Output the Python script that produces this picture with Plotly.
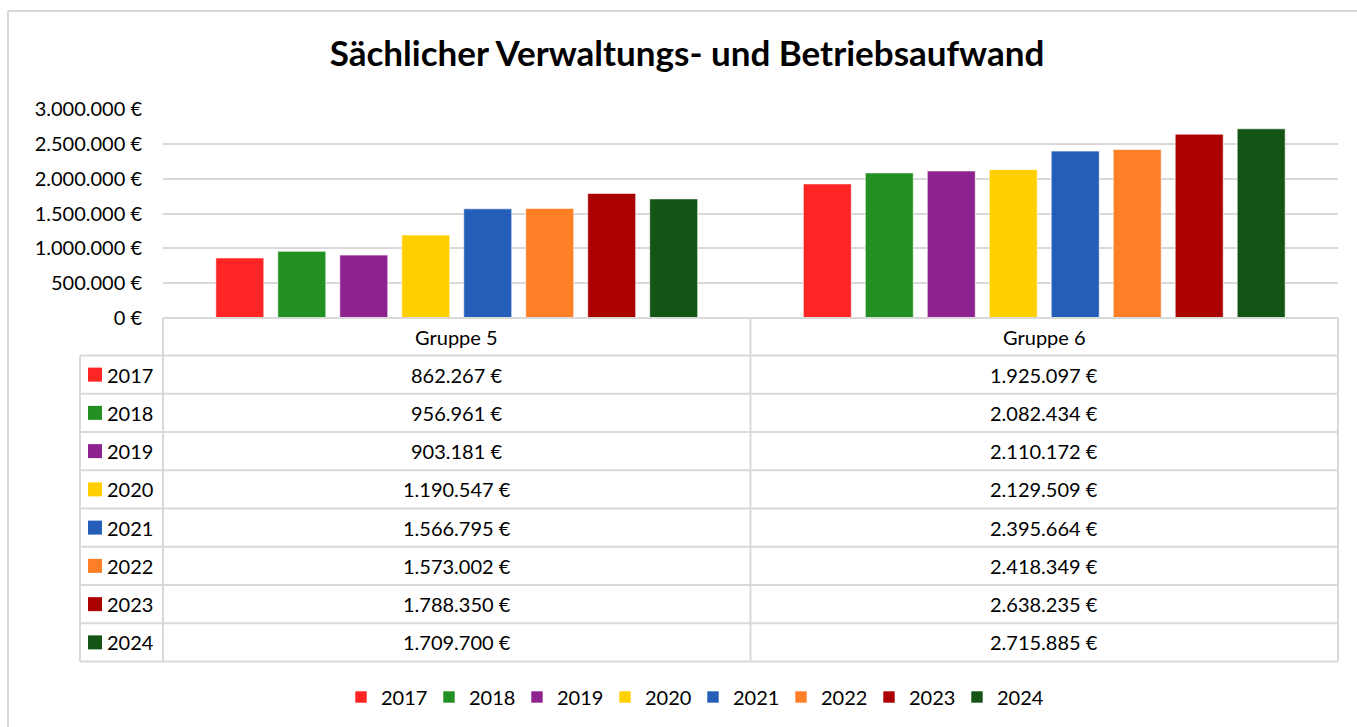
import plotly.graph_objects as go

W, H = 1357, 727

title = "Sächlicher Verwaltungs- und Betriebsaufwand"
categories = ["Gruppe 5", "Gruppe 6"]
years = ["2017", "2018", "2019", "2020", "2021", "2022", "2023", "2024"]
values_g5 = [862267, 956961, 903181, 1190547, 1566795, 1573002, 1788350, 1709700]
values_g6 = [1925097, 2082434, 2110172, 2129509, 2395664, 2418349, 2638235, 2715885]
colors = ["#FF2525", "#229022", "#8E2390", "#FFCF00", "#245EB8", "#FF7F26", "#AA0000", "#145516"]
y_ticks = [0, 500000, 1000000, 1500000, 2000000, 2500000, 3000000]

FONT = "Lato"
FS = 20
GRID = "#d9d9d9"


def eur(v):
    return f"{v:,}".replace(",", ".") + " €"


def px(x):
    return x / W


def py(y):
    return 1 - y / H


# layout geometry (pixels)
PL, PR, PT, PB = 163, 1338, 109, 318
TBL_L = 80
HDR_B = 355.5
ROW_H = 38.25
DIV = (PL + PR) / 2

fig = go.Figure()
for i, yr in enumerate(years):
    fig.add_trace(go.Bar(
        x=categories,
        y=[values_g5[i], values_g6[i]],
        name=yr,
        marker=dict(color=colors[i], line=dict(color="rgba(255,255,255,0.6)", width=1)),
    ))

shapes = []
line = dict(color=GRID, width=2)
# outer chart border
shapes.append(dict(type="line", xref="paper", yref="paper", x0=px(8), x1=px(8), y0=py(11), y1=py(H + 5), line=line))
shapes.append(dict(type="line", xref="paper", yref="paper", x0=px(8), x1=px(W + 5), y0=py(11), y1=py(11), line=line))
# table horizontal lines
shapes.append(dict(type="line", xref="paper", yref="paper", x0=px(PL), x1=px(PR), y0=py(PB), y1=py(PB), line=line))
n = len(years)
for r in range(n + 1):
    yy = HDR_B + r * ROW_H
    shapes.append(dict(type="line", xref="paper", yref="paper", x0=px(TBL_L), x1=px(PR), y0=py(yy), y1=py(yy), line=line))
bottom = HDR_B + n * ROW_H
# table vertical lines
shapes.append(dict(type="line", xref="paper", yref="paper", x0=px(TBL_L), x1=px(TBL_L), y0=py(HDR_B), y1=py(bottom), line=line))
for xx in (PL, DIV, PR):
    shapes.append(dict(type="line", xref="paper", yref="paper", x0=px(xx), x1=px(xx), y0=py(PB), y1=py(bottom), line=line))

annotations = []
cat_centers = [PL + (PR - PL) * 0.25, PL + (PR - PL) * 0.75]
for c, cx in zip(categories, cat_centers):
    annotations.append(dict(xref="paper", yref="paper", x=px(cx), y=py((PB + HDR_B) / 2), text=c,
                            showarrow=False, xanchor="center", yanchor="middle",
                            font=dict(family=FONT, size=FS, color="#000")))
for r, yr in enumerate(years):
    cy = HDR_B + (r + 0.5) * ROW_H
    shapes.append(dict(type="rect", xref="paper", yref="paper", x0=px(88), x1=px(102),
                       y0=py(cy - 7), y1=py(cy + 7), fillcolor=colors[r], line=dict(width=0)))
    annotations.append(dict(xref="paper", yref="paper", x=px(105), y=py(cy), text=yr,
                            showarrow=False, xanchor="left", yanchor="middle",
                            font=dict(family=FONT, size=FS, color="#000")))
    for vals, cx in zip((values_g5, values_g6), cat_centers):
        annotations.append(dict(xref="paper", yref="paper", x=px(cx), y=py(cy), text=eur(vals[r]),
                                showarrow=False, xanchor="center", yanchor="middle",
                                font=dict(family=FONT, size=FS, color="#000")))

fig.update_layout(
    width=W, height=H,
    margin=dict(l=0, r=0, t=0, b=0, autoexpand=False),
    paper_bgcolor="white", plot_bgcolor="white",
    title=dict(text="<b>" + title + "</b>", x=px(687), xanchor="center", y=py(54), yanchor="middle",
               font=dict(family=FONT, size=35, color="#000")),
    barmode="group", bargap=0.156, bargroupgap=0.226,
    xaxis=dict(domain=[px(PL), px(PR)], showticklabels=False, showgrid=False, zeroline=False,
               showline=False, automargin=False),
    yaxis=dict(domain=[py(PB), py(PT)], range=[0, 3000000], tickvals=y_ticks,
               ticktext=[eur(v) for v in y_ticks], showgrid=True, gridcolor=GRID, gridwidth=2,
               zeroline=False, showline=False, ticklabelstandoff=20, automargin=False,
               tickfont=dict(family=FONT, size=FS, color="#000")),
    legend=dict(orientation="h", x=px(693), xanchor="center", y=py(697), yanchor="middle",
                font=dict(family=FONT, size=FS, color="#000"), itemwidth=30, traceorder="normal",
                entrywidth=43, entrywidthmode="pixels"),
    shapes=shapes, annotations=annotations,
    font=dict(family=FONT),
)

fig.write_html("out.html", config={"displayModeBar": False},
               post_script="document.body.style.margin='0';document.body.style.overflow='hidden';")
